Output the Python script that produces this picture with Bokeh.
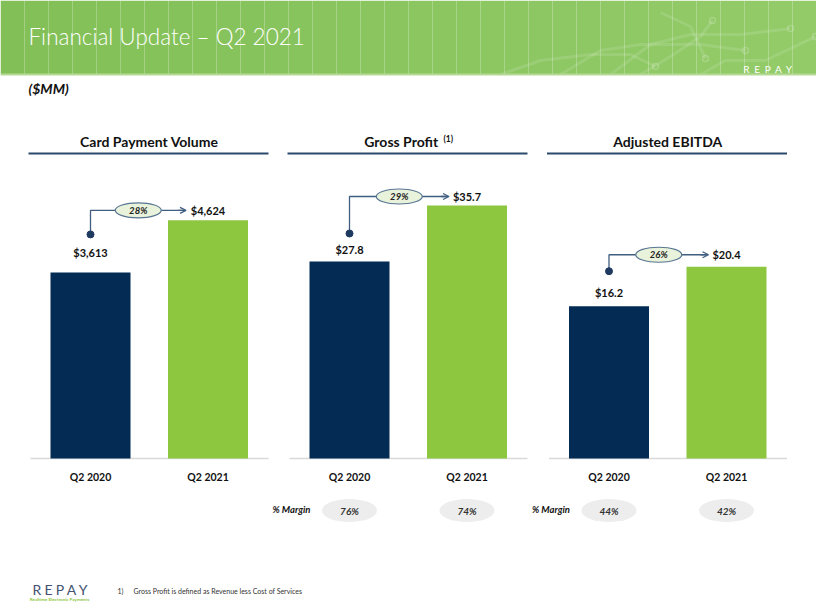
from bokeh.plotting import figure
from bokeh.models import Range1d, Arrow, OpenHead
from bokeh.embed import file_html
from bokeh.resources import INLINE
from bokeh.core.properties import value

# ---------------- data ----------------
page_title = "Financial Update – Q2 2021"
units_note = "($MM)"
periods = ["Q2 2020", "Q2 2021"]
panel_titles = ["Card Payment Volume", "Gross Profit", "Adjusted EBITDA"]
title_note = "(1)"
card_volume = [3613, 4624]
gross_profit = [27.8, 35.7]
adj_ebitda = [16.2, 20.4]
yoy_growth = ["28%", "29%", "26%"]
gross_margin = ["76%", "74%"]
ebitda_margin = ["44%", "42%"]
margin_label = "% Margin"
footnote_num = "1)"
footnote_text = "Gross Profit is defined as Revenue less Cost of Services"
brand = "REPAY"
tagline = "Realtime Electronic Payments"

# ---------------- style ----------------
FONT = value("Lato")
LIGHT = value("Lato Light, Lato")
NAVY = "#032B54"
GREEN = "#8DC63F"
RULE = "#2B4A6B"
CONN = "#3F5E80"
DOT = "#1F3A60"
W, H = 816, 612
STEP = 117.5          # px between the two category centres
BASE_Y = 458          # baseline (page px)
PLOT_PX = 298         # px from baseline to panel value-axis maximum
centres = [90, 349, 608.5]
axis_max = [5786, 42.05, 31.7]
# per panel px offsets: label1 above bar1, dot above bar1, connector above bar2, arrow gap
offs = [(18, 38, 10, 22), (10, 28, 9, 18), (12, 35, 12, 18)]

p = figure(width=W, height=H, x_range=Range1d(0, W), y_range=Range1d(H, 0),
           output_backend="svg", toolbar_location=None, min_border=0,
           x_axis_location=None, y_axis_location=None)
p.grid.visible = False
p.outline_line_color = None
p.background_fill_color = "white"
p.border_fill_color = "white"

# ---------------- header band ----------------
def mix(c1, c2, t):
    a = [int(c1[i:i + 2], 16) for i in (1, 3, 5)]
    b = [int(c2[i:i + 2], 16) for i in (1, 3, 5)]
    return "#%02x%02x%02x" % tuple(int(round(a[k] + (b[k] - a[k]) * t)) for k in range(3))

n = 34
edges = [k * W / n for k in range(n + 1)]
p.quad(left=edges[:-1], right=edges[1:], top=[0] * n, bottom=[74] * n,
       fill_color=[mix("#82C057", "#93CB69", k / (n - 1)) for k in range(n)], line_color=None)
circuits_x = [[560, 600, 640, 700, 745], [610, 650, 690, 740, 790], [640, 670, 700, 712],
              [700, 725, 765, 815], [500, 540, 590, 630, 655], [660, 690, 705]]
circuits_y = [[74, 50, 44, 44, 50], [74, 44, 34, 34, 28], [74, 56, 36, 20],
              [74, 60, 60, 36], [74, 60, 54, 54, 66], [12, 26, 58]]
p.multi_line(xs=circuits_x, ys=circuits_y, line_color="white", line_alpha=0.12, line_width=3)
p.scatter(x=[745, 790, 712, 815, 655, 705], y=[50, 28, 20, 36, 66, 58], size=6,
          fill_color=None, line_color="white", line_alpha=0.2, line_width=1.5)
p.quad(left=[0], right=[W], top=[73], bottom=[75], fill_color="#B5DA95", line_color=None)
p.text(x=[28], y=[36], text=[page_title], text_font=LIGHT, text_font_size="22.5px",
       text_color="white", text_baseline="middle", text_align="left")
for k, ch in enumerate(brand):
    p.text(x=[746 + k * 10.6], y=[68], text=[ch], text_font=FONT, text_font_size="10px",
           text_color="white", text_baseline="middle", text_align="center")
p.text(x=[28], y=[88], text=[units_note], text_font=FONT, text_font_size="14px",
       text_font_style="bold italic", text_color="#111111", text_baseline="middle")

# ---------------- panels ----------------
series = [card_volume, gross_profit, adj_ebitda]
fmts = ["${:,.0f}", "${:.1f}", "${:.1f}"]
margins = [None, gross_margin, ebitda_margin]
xs = list(range(len(periods)))

for i in range(3):
    c, ymax, vals = centres[i], axis_max[i], series[i]
    ppu = PLOT_PX / ymax
    xr, yr = f"x{i}", f"y{i}"
    p.extra_x_ranges[xr] = Range1d((0 - c) / STEP, (W - c) / STEP)
    p.extra_y_ranges[yr] = Range1d((BASE_Y - H) / ppu, BASE_Y / ppu)
    kw = dict(x_range_name=xr, y_range_name=yr)
    d = lambda px: px / ppu
    dx = lambda px: px / STEP

    # title + rule
    if i == 1:
        p.text(x=[0.44], y=[d(317)], text=[panel_titles[i]], text_font=FONT, text_font_size="14px",
               text_font_style="bold", text_color="#111111", text_align="center",
               text_baseline="middle", **kw)
        p.text(x=[0.80], y=[d(320)], text=[title_note], text_font=FONT, text_font_size="8.5px",
               text_font_style="bold", text_color="#111111", text_align="left",
               text_baseline="middle", **kw)
    else:
        p.text(x=[0.5], y=[d(317)], text=[panel_titles[i]], text_font=FONT, text_font_size="14px",
               text_font_style="bold", text_color="#111111", text_align="center",
               text_baseline="middle", **kw)
    p.segment(x0=[dx(-62)], y0=[d(305)], x1=[dx(178)], y1=[d(305)], line_color=RULE,
              line_width=2, **kw)

    # baseline + bars
    p.segment(x0=[dx(-60)], y0=[0], x1=[dx(178)], y1=[0], line_color="#D9D9D9",
              line_width=1.5, **kw)
    p.vbar(x=xs, top=vals, bottom=0, width=dx(80), fill_color=[NAVY, GREEN],
           line_color=None, **kw)

    # value labels
    o_lab, o_dot, o_line, o_gap = offs[i]
    yline = vals[1] + d(o_line)
    p.text(x=xs, y=[vals[0] + d(o_lab) + d(2), yline], text=[fmts[i].format(v) for v in vals],
           text_font=FONT, text_font_size="11px", text_font_style="bold", text_color="#111111",
           text_align="center", text_baseline="middle", **kw)

    # growth connector
    ydot = vals[0] + d(o_dot)
    xe = 1 - dx(o_gap)
    p.line(x=[0, 0, xe - dx(2)], y=[ydot, yline, yline], line_color=CONN, line_width=1.3, **kw)
    p.add_layout(Arrow(end=OpenHead(size=6, line_color=CONN, line_width=1.3),
                       x_start=xe - dx(8), y_start=yline, x_end=xe, y_end=yline,
                       line_color=CONN, line_width=1.3, level="underlay", **kw))
    p.scatter(x=[0], y=[ydot], size=7, fill_color=DOT, line_color=DOT, **kw)
    xm = xe / 2
    p.ellipse(x=[xm], y=[yline], width=46, height=15, width_units="screen",
              height_units="screen", fill_color="#E9F2DB", line_color="#587592",
              line_width=1.2, **kw)
    p.text(x=[xm], y=[yline], text=[yoy_growth[i]], text_font=FONT, text_font_size="9.5px",
           text_font_style="bold italic", text_color="#222222", text_align="center",
           text_baseline="middle", **kw)

    # category labels
    p.text(x=xs, y=[d(-18)] * 2, text=periods, text_font=FONT, text_font_size="10.5px",
           text_font_style="bold", text_color="#111111", text_align="center",
           text_baseline="middle", **kw)

    # margins
    if margins[i] is not None:
        p.ellipse(x=xs, y=[d(-52)] * 2, width=55, height=23, width_units="screen",
                  height_units="screen", fill_color="#EDEDED", line_color=None, **kw)
        p.text(x=xs, y=[d(-52)] * 2, text=margins[i], text_font=FONT, text_font_size="10px",
               text_font_style="bold italic", text_color="#333333", text_align="center",
               text_baseline="middle", **kw)
        p.text(x=[dx(-39)], y=[d(-51)], text=[margin_label], text_font=FONT,
               text_font_size="9.5px", text_font_style="bold italic", text_color="#111111",
               text_align="right", text_baseline="middle", **kw)

# ---------------- footer ----------------
for k, ch in enumerate(brand):
    p.text(x=[36.5 + k * 11.5], y=[589], text=[ch], text_font=FONT, text_font_size="14px",
           text_color="#43526F", text_baseline="middle", text_align="center")
p.text(x=[59], y=[599], text=[tagline], text_font=FONT, text_font_size="4.5px",
       text_font_style="bold", text_color=GREEN, text_baseline="middle", text_align="center")
p.text(x=[117], y=[590], text=[footnote_num], text_font=FONT, text_font_size="7px",
       text_color="#333333", text_baseline="middle", text_align="left")
p.text(x=[133], y=[590], text=[footnote_text], text_font=FONT, text_font_size="7px",
       text_color="#333333", text_baseline="middle", text_align="left")

open("out.html", "w").write(file_html(p, INLINE))
